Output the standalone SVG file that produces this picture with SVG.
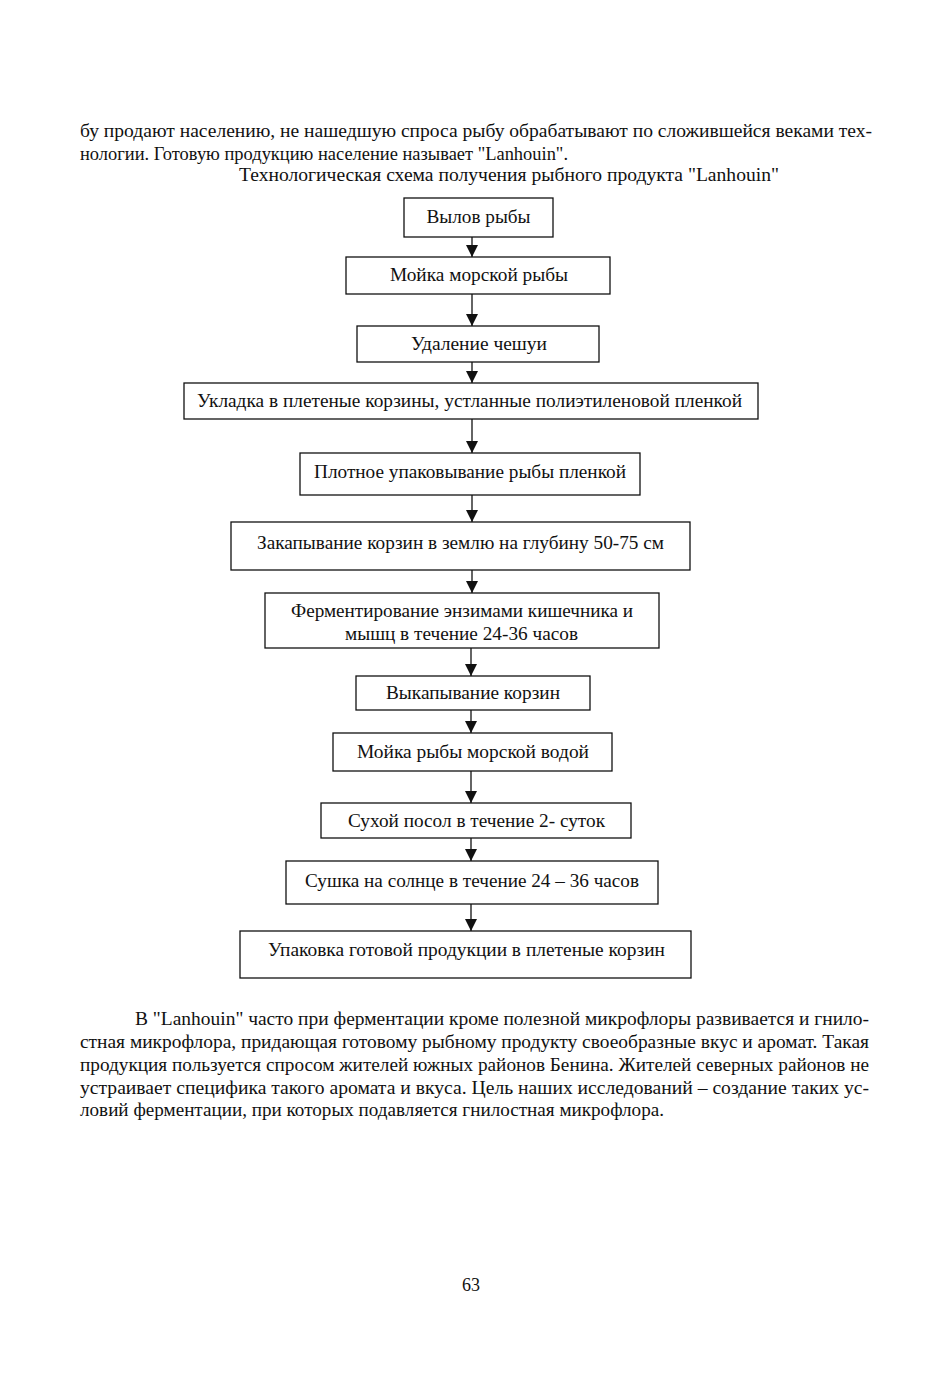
<svg xmlns="http://www.w3.org/2000/svg" width="941" height="1374" viewBox="0 0 941 1374">
<style>
text{font-family:"Liberation Serif","Times New Roman",serif;font-size:18px;fill:#111}
.box rect{fill:#fff;stroke:#111;stroke-width:1.3}
.box text{text-anchor:middle}
.conn line{stroke:#111;stroke-width:1.3}
</style>
<defs>
<marker id="ah" viewBox="0 0 12 12" refX="12" refY="6" markerWidth="12" markerHeight="12" markerUnits="userSpaceOnUse" orient="auto">
<path d="M0,0 L12,6 L0,12 Z" fill="#111"/>
</marker>
</defs>
<rect width="941" height="1374" fill="#fff"/>
<g id="para-top">
<text x="80" y="137" textLength="792" lengthAdjust="spacingAndGlyphs">бу продают населению, не нашедшую спроса рыбу обрабатывают по сложившейся веками тех-</text>
<text x="80" y="160" textLength="488" lengthAdjust="spacingAndGlyphs">нологии. Готовую продукцию население называет "Lanhouin".</text>
<text x="239" y="181" textLength="540" lengthAdjust="spacingAndGlyphs">Технологическая схема получения рыбного продукта  "Lanhouin"</text>
</g>
<g class="conn" id="connectors">
<line x1="472" y1="237" x2="472" y2="257" marker-end="url(#ah)"/>
<line x1="472" y1="294" x2="472" y2="326" marker-end="url(#ah)"/>
<line x1="472" y1="362" x2="472" y2="383" marker-end="url(#ah)"/>
<line x1="472" y1="419" x2="472" y2="453" marker-end="url(#ah)"/>
<line x1="472" y1="495" x2="472" y2="522" marker-end="url(#ah)"/>
<line x1="472" y1="570" x2="472" y2="593" marker-end="url(#ah)"/>
<line x1="471" y1="630" x2="471" y2="676" marker-end="url(#ah)"/>
<line x1="471" y1="710" x2="471" y2="733" marker-end="url(#ah)"/>
<line x1="471" y1="771" x2="471" y2="803" marker-end="url(#ah)"/>
<line x1="471" y1="838" x2="471" y2="861" marker-end="url(#ah)"/>
<line x1="471" y1="904" x2="471" y2="931" marker-end="url(#ah)"/>
</g>
<g class="box" id="n1"><rect x="404" y="198" width="149" height="39"/><text x="478.5" y="223" textLength="104" lengthAdjust="spacingAndGlyphs">Вылов рыбы</text></g>
<g class="box" id="n2"><rect x="346" y="257" width="264" height="37"/><text x="479" y="281" textLength="178" lengthAdjust="spacingAndGlyphs">Мойка морской рыбы</text></g>
<g class="box" id="n3"><rect x="357" y="326" width="242" height="36"/><text x="479" y="350" textLength="136" lengthAdjust="spacingAndGlyphs">Удаление чешуи</text></g>
<g class="box" id="n4"><rect x="184" y="383" width="574" height="36"/><text x="469.5" y="407" textLength="545" lengthAdjust="spacingAndGlyphs">Укладка в плетеные корзины, устланные полиэтиленовой пленкой</text></g>
<g class="box" id="n5"><rect x="300" y="453" width="340" height="42"/><text x="470" y="478" textLength="312" lengthAdjust="spacingAndGlyphs">Плотное упаковывание рыбы пленкой</text></g>
<g class="box" id="n6"><rect x="231" y="522" width="459" height="48"/><text x="460.5" y="549" textLength="407" lengthAdjust="spacingAndGlyphs">Закапывание корзин в землю на глубину 50-75 см</text></g>
<g class="box" id="n7"><rect x="265" y="593" width="394" height="55"/><text x="462" y="617" textLength="342" lengthAdjust="spacingAndGlyphs">Ферментирование энзимами кишечника и</text><text x="461.5" y="640" textLength="233" lengthAdjust="spacingAndGlyphs">мышц в течение 24-36 часов</text></g>
<g class="box" id="n8"><rect x="356" y="676" width="234" height="34"/><text x="473" y="699" textLength="174" lengthAdjust="spacingAndGlyphs">Выкапывание корзин</text></g>
<g class="box" id="n9"><rect x="333" y="733" width="279" height="38"/><text x="473" y="758" textLength="232" lengthAdjust="spacingAndGlyphs">Мойка рыбы морской водой</text></g>
<g class="box" id="n10"><rect x="321" y="803" width="310" height="35"/><text x="476.5" y="827" textLength="257" lengthAdjust="spacingAndGlyphs">Сухой посол в течение 2- суток</text></g>
<g class="box" id="n11"><rect x="286" y="861" width="372" height="43"/><text x="472" y="887" textLength="334" lengthAdjust="spacingAndGlyphs">Сушка на солнце в течение 24 – 36 часов</text></g>
<g class="box" id="n12"><rect x="240" y="931" width="451" height="47"/><text x="466.5" y="956" textLength="397" lengthAdjust="spacingAndGlyphs">Упаковка готовой продукции в плетеные корзин</text></g>
<g id="para-bottom">
<text x="135" y="1025" textLength="734" lengthAdjust="spacingAndGlyphs">В "Lanhouin" часто при ферментации кроме полезной микрофлоры развивается и гнило-</text>
<text x="80" y="1048" textLength="789" lengthAdjust="spacingAndGlyphs">стная микрофлора, придающая готовому рыбному продукту своеобразные вкус и аромат. Такая</text>
<text x="80" y="1071" textLength="789" lengthAdjust="spacingAndGlyphs">продукция пользуется спросом жителей южных районов Бенина. Жителей северных районов не</text>
<text x="80" y="1094" textLength="789" lengthAdjust="spacingAndGlyphs">устраивает специфика такого аромата и вкуса. Цель наших исследований – создание таких ус-</text>
<text x="80" y="1116" textLength="584" lengthAdjust="spacingAndGlyphs">ловий ферментации, при которых подавляется гнилостная микрофлора.</text>
</g>
<text x="471" y="1291" text-anchor="middle">63</text>
</svg>
